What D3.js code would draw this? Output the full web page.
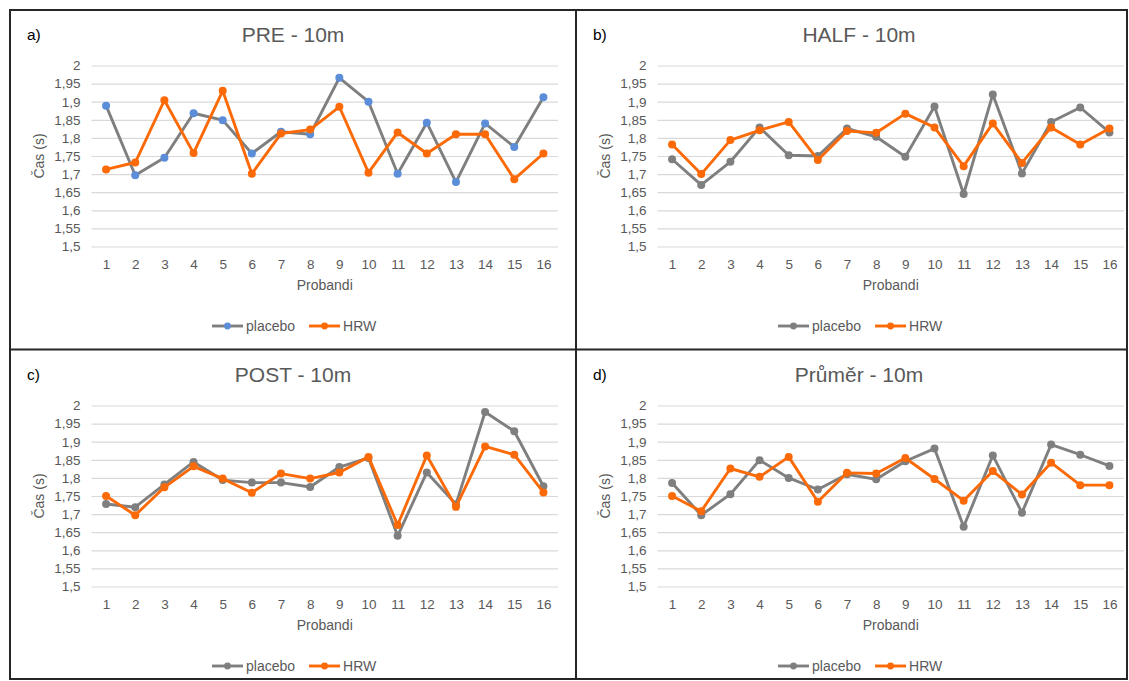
<!DOCTYPE html>
<html>
<head>
<meta charset="utf-8">
<script src="https://cdn.jsdelivr.net/npm/d3@7"></script>
<style>
  html, body { margin: 0; padding: 0; background: #fff; }
  svg { display: block; font-family: "Liberation Sans", Arial, sans-serif; }
  .axis path.domain { display: none; }
  .axis text { fill: #595959; }
</style>
</head>
<body>
<svg id="chart" width="1129" height="681"></svg>
<script>
// Probands on the x axis
const probandi = ["1","2","3","4","5","6","7","8","9","10","11","12","13","14","15","16"];

// Y axis ticks (seconds) and their Czech labels
const yTickValues = [1.5, 1.55, 1.6, 1.65, 1.7, 1.75, 1.8, 1.85, 1.9, 1.95, 2];
const yTickLabels = ["1,5","1,55","1,6","1,65","1,7","1,75","1,8","1,85","1,9","1,95","2"];

// 10 m sprint times (s)
const prePlacebo  = [1.889,1.697,1.745,1.868,1.849,1.757,1.817,1.810,1.966,1.900,1.701,1.842,1.678,1.840,1.775,1.912];
const preHRW      = [1.713,1.732,1.904,1.758,1.930,1.701,1.812,1.823,1.886,1.704,1.815,1.757,1.810,1.810,1.686,1.757];
const halfPlacebo = [1.741,1.670,1.734,1.829,1.752,1.750,1.826,1.803,1.748,1.887,1.645,1.920,1.702,1.844,1.884,1.815];
const halfHRW     = [1.782,1.700,1.794,1.821,1.844,1.739,1.819,1.814,1.867,1.829,1.722,1.840,1.731,1.829,1.782,1.826];
const postPlacebo = [1.728,1.719,1.782,1.844,1.794,1.787,1.787,1.775,1.830,1.855,1.640,1.815,1.727,1.982,1.929,1.777];
const postHRW     = [1.750,1.697,1.774,1.832,1.798,1.759,1.812,1.798,1.815,1.858,1.670,1.862,1.720,1.887,1.864,1.760];
const avgPlacebo  = [1.786,1.697,1.755,1.849,1.800,1.768,1.810,1.796,1.846,1.881,1.665,1.862,1.704,1.892,1.864,1.833];
const avgHRW      = [1.750,1.708,1.826,1.803,1.858,1.734,1.814,1.812,1.855,1.797,1.737,1.819,1.754,1.842,1.780,1.780];

const panelTags   = ["a)", "b)", "c)", "d)"];
const panelTitles = ["PRE - 10m", "HALF - 10m", "POST - 10m", "Průměr - 10m"];
const seriesNames = ["placebo", "HRW"];

const GRAY = "#7f7f7f", ORANGE = "#fb6a07", BLUE = "#5b8dd9", TEXT = "#595959";

const panels = [
  { x: 10,  y: 10,  w: 566, placebo: prePlacebo,  hrw: preHRW,  placeboMarker: BLUE },
  { x: 576, y: 10,  w: 551, placebo: halfPlacebo, hrw: halfHRW, placeboMarker: GRAY },
  { x: 10,  y: 350, w: 566, placebo: postPlacebo, hrw: postHRW, placeboMarker: GRAY },
  { x: 576, y: 350, w: 551, placebo: avgPlacebo,  hrw: avgHRW,  placeboMarker: GRAY }
];

const svg = d3.select("#chart");

// Frame around the four panels
const frame = svg.append("g").attr("fill", "none").attr("stroke", "#262626").attr("stroke-width", 2);
frame.append("rect").attr("x", 10).attr("y", 10).attr("width", 1117).attr("height", 669);
frame.append("line").attr("x1", 576).attr("x2", 576).attr("y1", 10).attr("y2", 679);
frame.append("line").attr("x1", 10).attr("x2", 1127).attr("y1", 349.5).attr("y2", 349.5);

panels.forEach((p, i) => {
  const g = svg.append("g");
  const left = p.x + 81.5, right = p.x + 548;
  const top = p.y + 55.5, bottom = p.y + 236.5;

  const x = d3.scalePoint().domain(probandi).range([left, right]).padding(0.5);
  const y = d3.scaleLinear().domain([1.5, 2]).range([bottom, top]);

  // Panel tag and title
  g.append("text").attr("x", p.x + 17).attr("y", p.y + 30)
    .attr("font-size", 15.5).attr("fill", "#000").text(panelTags[i]);
  g.append("text").attr("x", p.x + 283).attr("y", p.y + 32)
    .attr("text-anchor", "middle").attr("font-size", 21).attr("fill", TEXT)
    .text(panelTitles[i]);

  // Horizontal gridlines with y labels
  const yAxis = d3.axisLeft(y)
    .tickValues(yTickValues)
    .tickFormat((d, k) => yTickLabels[k])
    .tickSize(-(right - left))
    .tickPadding(11);
  const ya = g.append("g").attr("class", "axis").attr("transform", `translate(${left},0)`).call(yAxis);
  ya.selectAll("line").attr("stroke", "#d9d9d9").attr("stroke-width", 1.2);
  ya.selectAll("text").attr("font-size", 13.5);

  // X labels
  const xAxis = d3.axisBottom(x).tickSize(0).tickPadding(13);
  const xa = g.append("g").attr("class", "axis").attr("transform", `translate(0,${bottom})`).call(xAxis);
  xa.selectAll("text").attr("font-size", 13.5);

  // Axis titles
  g.append("text")
    .attr("transform", `translate(${p.x + 34},${(top + bottom) / 2}) rotate(-90)`)
    .attr("text-anchor", "middle").attr("font-size", 14).attr("fill", TEXT)
    .text("Čas (s)");
  g.append("text").attr("x", (left + right) / 2).attr("y", bottom + 43)
    .attr("text-anchor", "middle").attr("font-size", 14).attr("fill", TEXT)
    .text("Probandi");

  // Series
  const line = d3.line().x((d, k) => x(probandi[k])).y(d => y(d));
  const series = [
    { values: p.placebo, stroke: GRAY,   marker: p.placeboMarker },
    { values: p.hrw,     stroke: ORANGE, marker: ORANGE }
  ];
  series.forEach(s => {
    g.append("path").datum(s.values).attr("d", line)
      .attr("fill", "none").attr("stroke", s.stroke).attr("stroke-width", 2.9)
      .attr("stroke-linejoin", "round");
    g.append("g").selectAll("circle").data(s.values).join("circle")
      .attr("cx", (d, k) => x(probandi[k])).attr("cy", d => y(d))
      .attr("r", 4).attr("fill", s.marker);
  });

  // Legend
  const ly = p.y + 316;
  let lx = p.x + 202;
  series.forEach((s, k) => {
    g.append("line").attr("x1", lx).attr("x2", lx + 31).attr("y1", ly).attr("y2", ly)
      .attr("stroke", s.stroke).attr("stroke-width", 2.9);
    g.append("circle").attr("cx", lx + 15.5).attr("cy", ly).attr("r", 3.4).attr("fill", s.marker);
    const t = g.append("text").attr("x", lx + 34).attr("y", ly + 5)
      .attr("font-size", 14).attr("fill", TEXT).text(seriesNames[k]);
    lx += 34 + t.node().getComputedTextLength() + 14;
  });
});
</script>
</body>
</html>
